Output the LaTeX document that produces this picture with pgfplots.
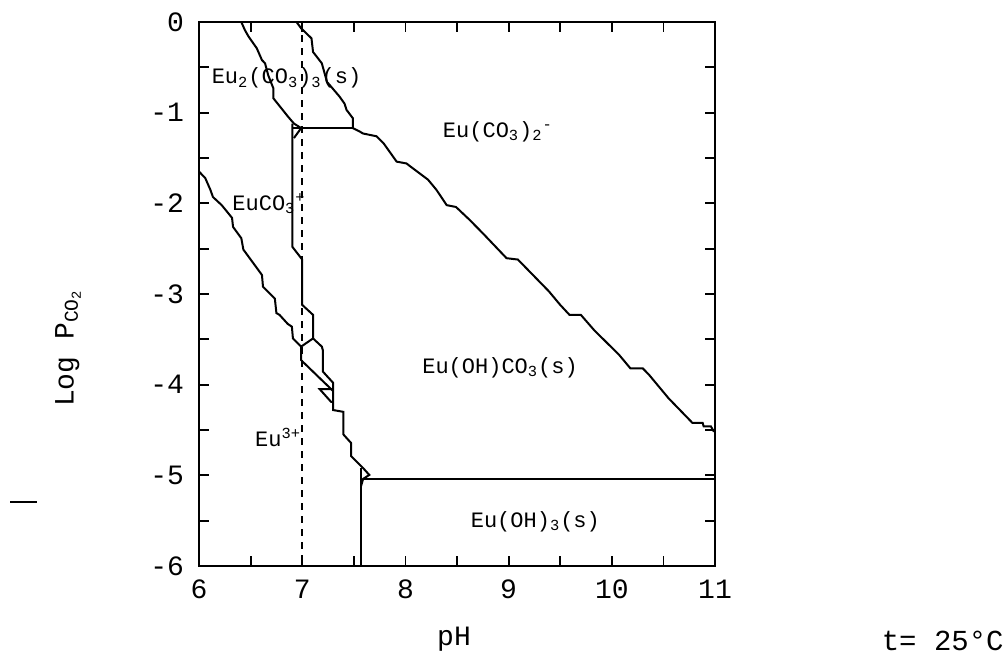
\documentclass[border=0pt]{standalone}
\usepackage{fontspec}
\setmainfont{Liberation Mono}
\usepackage{pgfplots}
\pgfplotsset{compat=1.18}

\begin{document}
\begin{tikzpicture}[x=1pt,y=1pt,
  bnd/.style={black, line width=1pt, mark=none},
  lbl/.style={anchor=west, font=\fontsize{11}{13}\selectfont, inner sep=0pt}]
\useasboundingbox (0,0) rectangle (502,326.5);
\begin{axis}[
  at={(99.5pt,43.5pt)}, anchor=south west,
  scale only axis, width=258pt, height=272pt,
  xmin=6, xmax=11, ymin=-6, ymax=0,
  xtick={6,...,11}, ytick={-6,...,0},
  minor x tick num=1, minor y tick num=1,
  tick align=inside,
  major tick length=5pt, minor tick length=5pt,
  every tick/.style={black, line width=0.9pt},
  axis line style={line width=1.3pt},
  ticklabel style={font=\fontsize{14}{16}\selectfont},
  /pgf/number format/assume math mode=true,
  xticklabel style={yshift=-3.5pt},
  yticklabel style={xshift=-4pt},
  clip=false,
]
% pH 7 reference line
\addplot[black, line width=1pt, dash pattern=on 3.5pt off 3pt] coordinates {(7,0) (7,-6)};

% Eu2(CO3)3(s) / EuCO3+ boundary
\addplot[bnd] coordinates {(6.41,0) (6.445,-0.09) (6.48,-0.16) (6.56,-0.29) (6.61,-0.42) (6.64,-0.455) (6.67,-0.585) (6.72,-0.73) (6.72,-0.84) (6.86,-1.04) (6.92,-1.12) (6.99,-1.17) (6.92,-1.28)};
% Eu2(CO3)3(s) / Eu(CO3)2- boundary
\addplot[bnd] coordinates {(6.945,0) (6.99,-0.07) (7.09,-0.18) (7.105,-0.33) (7.19,-0.455) (7.24,-0.66) (7.36,-0.82) (7.41,-0.90) (7.43,-0.97) (7.49,-1.06) (7.49,-1.17)};
% Eu2(CO3)3(s) / Eu(OH)CO3(s)
\addplot[bnd] coordinates {(6.905,-1.17) (7.49,-1.17)};
% Eu(CO3)2- / Eu(OH)CO3(s)
\addplot[bnd] coordinates {(7.49,-1.17) (7.56,-1.21) (7.59,-1.23) (7.72,-1.26) (7.79,-1.34) (7.915,-1.54) (8.01,-1.56) (8.22,-1.74) (8.30,-1.85) (8.40,-2.02) (8.49,-2.04) (8.62,-2.18) (8.75,-2.33) (8.98,-2.605) (9.09,-2.62) (9.39,-2.97) (9.50,-3.12) (9.59,-3.23) (9.70,-3.23) (9.83,-3.40) (10.07,-3.67) (10.18,-3.82) (10.30,-3.82) (10.36,-3.89) (10.55,-4.15) (10.78,-4.42) (10.88,-4.42) (10.89,-4.46) (10.96,-4.46) (10.99,-4.52)};
% EuCO3+ / Eu(OH)CO3(s)
\addplot[bnd] coordinates {(6.905,-1.12) (6.905,-2.48) (7.0,-2.62) (7.0,-3.12) (7.105,-3.23) (7.105,-3.49) (7.19,-3.58) (7.20,-3.62) (7.20,-3.855) (7.30,-3.98) (7.30,-4.28) (7.40,-4.30) (7.40,-4.55) (7.475,-4.645) (7.475,-4.79) (7.59,-4.92) (7.65,-4.995) (7.59,-5.04) (7.57,-5.12)};
% Eu3+ / EuCO3+
\addplot[bnd] coordinates {(6,-1.65) (6.06,-1.72) (6.11,-1.85) (6.135,-1.93) (6.22,-2.02) (6.32,-2.16) (6.33,-2.26) (6.41,-2.385) (6.43,-2.51) (6.61,-2.79) (6.62,-2.92) (6.735,-3.05) (6.75,-3.21) (6.78,-3.23) (6.86,-3.33) (6.90,-3.36) (6.91,-3.49) (6.99,-3.58) (7.105,-3.49)};
% Eu3+ / Eu(OH)CO3(s)
\addplot[bnd] coordinates {(6.99,-3.58) (6.99,-3.73) (7.19,-3.95) (7.30,-4.07)};
\addplot[bnd] coordinates {(7.30,-4.05) (7.17,-4.05) (7.28,-4.19) (7.30,-4.19)};
% Eu3+ / Eu(OH)3(s)
\addplot[bnd] coordinates {(7.57,-4.92) (7.57,-6)};
% Eu(OH)CO3(s) / Eu(OH)3(s)
\addplot[bnd] coordinates {(7.59,-5.04) (11,-5.04)};

% field labels
\node[lbl] at (axis cs:6.12,-0.62) {Eu\textsubscript{2}(CO\textsubscript{3})\textsubscript{3}(s)};
\node[lbl] at (axis cs:8.36,-1.21) {Eu(CO\textsubscript{3})\textsubscript{2}\textsuperscript{-}};
\node[lbl] at (axis cs:6.32,-2.0) {EuCO\textsubscript{3}\textsuperscript{+}};
\node[lbl] at (axis cs:8.16,-3.81) {Eu(OH)CO\textsubscript{3}(s)};
\node[lbl] at (axis cs:6.54,-4.58) {Eu\textsuperscript{3+}};
\node[lbl] at (axis cs:8.63,-5.51) {Eu(OH)\textsubscript{3}(s)};
\end{axis}

% axis titles and temperature note
\node[rotate=90, font=\fontsize{14}{16}\selectfont] at (34,152.5) {Log P\textsubscript{CO\textsubscript{2}}};
\node[anchor=base, font=\fontsize{14}{16}\selectfont] at (227,4) {pH};
\node[anchor=base east, font=\fontsize{14.5}{16}\selectfont, inner sep=0pt] at (502,1.5) {t= 25°C};
\draw[line width=1pt] (5,75.5) -- (18.5,75.5);
\end{tikzpicture}
\end{document}
